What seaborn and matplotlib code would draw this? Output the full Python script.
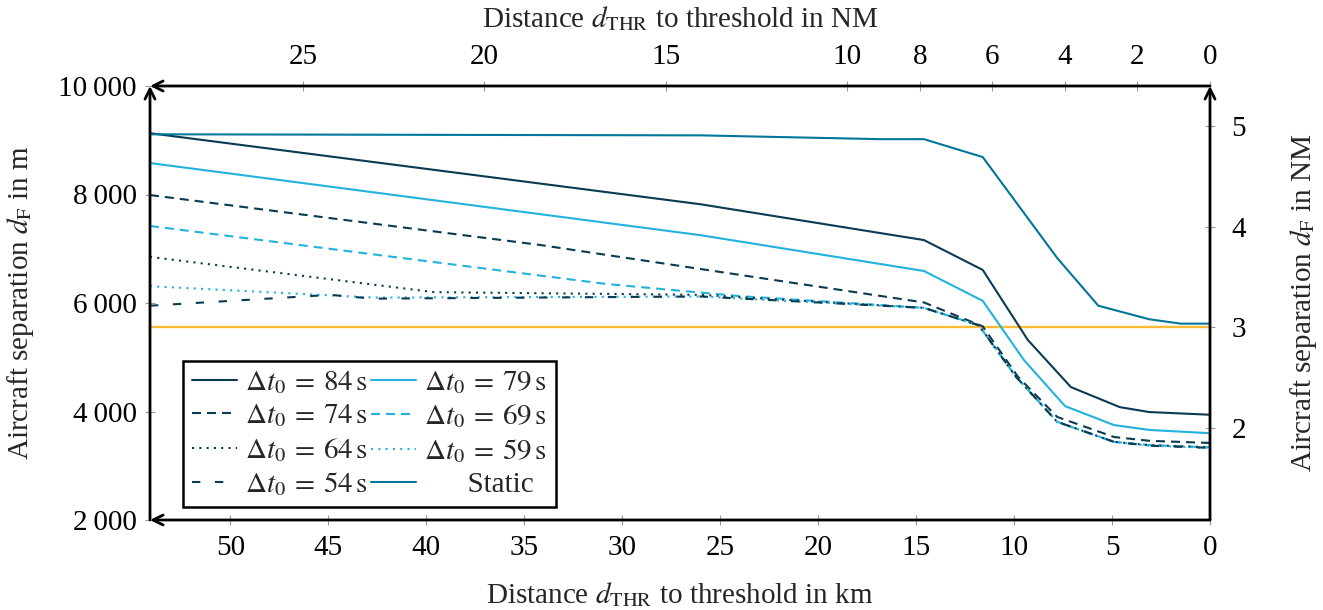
import matplotlib
matplotlib.use("Agg")
import matplotlib.pyplot as plt
import seaborn as sns
import numpy as np

# ---------------- data (distance km, separation m) ----------------
km_84 = [54.1, 26.0, 14.6, 11.6, 9.3, 7.1, 4.6, 3.1, 0.0]
m_84 = [9130, 7820, 7160, 6610, 5320, 4450, 4080, 3990, 3940]

km_79 = [54.1, 26.0, 14.6, 11.6, 9.5, 7.4, 4.9, 3.1, 0.0]
m_79 = [8580, 7250, 6590, 6040, 4950, 4100, 3750, 3660, 3600]

km_74 = [54.1, 34.2, 14.6, 11.6, 9.8, 7.8, 4.9, 3.1, 0.0]
m_74 = [7990, 7070, 6010, 5570, 4640, 3900, 3530, 3460, 3420]

km_69 = [54.1, 30.8, 24.1, 14.6, 11.8, 9.9, 7.8, 4.9, 3.1, 0.0]
m_69 = [7420, 6350, 6130, 5910, 5590, 4640, 3810, 3440, 3380, 3340]

km_64 = [54.1, 39.6, 26.0, 14.6, 11.8, 9.9, 7.8, 4.9, 3.1, 0.0]
m_64 = [6850, 6200, 6150, 5910, 5590, 4640, 3810, 3440, 3380, 3340]

km_59 = [54.1, 42.7, 26.0, 14.6, 11.8, 9.9, 7.8, 4.9, 3.1, 0.0]
m_59 = [6310, 6100, 6120, 5910, 5590, 4640, 3810, 3440, 3370, 3330]

km_54 = [54.1, 44.9, 42.7, 26.0, 14.6, 11.8, 9.9, 7.8, 4.9, 3.1, 0.0]
m_54 = [5950, 6150, 6080, 6120, 5910, 5590, 4640, 3810, 3440, 3370, 3330]

km_static = [54.1, 26.0, 16.8, 14.6, 11.6, 7.8, 5.7, 3.1, 1.5, 0.0]
m_static = [9110, 9090, 9020, 9020, 8690, 6830, 5950, 5700, 5620, 5620]

labels = [r"$\Delta t_0 \:=\: 84\,\mathrm{s}$", r"$\Delta t_0 \:=\: 79\,\mathrm{s}$",
          r"$\Delta t_0 \:=\: 74\,\mathrm{s}$", r"$\Delta t_0 \:=\: 69\,\mathrm{s}$",
          r"$\Delta t_0 \:=\: 64\,\mathrm{s}$", r"$\Delta t_0 \:=\: 59\,\mathrm{s}$",
          r"$\Delta t_0 \:=\: 54\,\mathrm{s}$", "      Static"]

NM = 1852.0
min_sep_nm = 3

x_ticks_km = [50, 45, 40, 35, 30, 25, 20, 15, 10, 5, 0]
x_ticks_nm = [25, 20, 15, 10, 8, 6, 4, 2, 0]
y_ticks_m = [2000, 4000, 6000, 8000, 10000]
y_ticks_nm = [2, 3, 4, 5]

# ---------------- style ----------------
sns.set_theme(style="white")
plt.rcParams['font.family'] = ['Liberation Serif', 'DejaVu Serif']
plt.rcParams['mathtext.fontset'] = 'stix'
FS = 21

DARK = '#0a3a50'
LIGHT = '#22b2de'
STATIC = '#00769a'
ORANGE = '#ffbb33'

fig = plt.figure(figsize=(13.23, 6.10), dpi=100)
ax = fig.add_axes([150/1323, 1-520/610, 1060/1323, 434/610])

series = [
    (km_84, m_84, DARK, '-'),
    (km_79, m_79, LIGHT, '-'),
    (km_74, m_74, DARK, (0, (4.3, 2.9))),
    (km_69, m_69, LIGHT, (0, (4.3, 2.9))),
    (km_64, m_64, DARK, (0, (1, 2.5))),
    (km_59, m_59, LIGHT, (0, (1, 2.5))),
    (km_54, m_54, DARK, (0, (4, 7))),
    (km_static, m_static, STATIC, '-'),
]

ax.axhline(min_sep_nm * NM, color=ORANGE, lw=1.7, zorder=1)

handles = []
for (xs, ys, c, ls), lab in zip(series, labels):
    sns.lineplot(x=xs, y=ys, ax=ax, color=c, linestyle=ls, lw=1.5,
                 label=lab, legend=False, errorbar=None, sort=False, zorder=3)
    handles.append(ax.get_lines()[-1])

ax.set_xlim(54.1, 0)
ax.set_ylim(2000, 10000)
ax.set_xticks(x_ticks_km)
ax.set_xticklabels([str(v) for v in x_ticks_km])
ax.set_yticks(y_ticks_m)
ax.set_yticklabels([f"{v:,}".replace(",", "\u2009") for v in y_ticks_m])

for s in ax.spines.values():
    s.set_visible(False)

tick_kw = dict(direction='inout', length=7, width=0.8, color='#999999',
               labelsize=FS, labelcolor='black')
ax.tick_params(axis='x', bottom=True, pad=7, **tick_kw)
ax.tick_params(axis='y', left=True, pad=6, **tick_kw)

ax.set_xlabel(r"Distance $d_{\mathrm{THR}}$ to threshold in km", fontsize=FS, labelpad=14)
ax.set_ylabel(r"Aircraft separation $d_{\mathrm{F}}$ in m", fontsize=FS, labelpad=16)

secx = ax.secondary_xaxis('top', functions=(lambda k: k / 1.852, lambda n: n * 1.852))
secx.set_xticks(x_ticks_nm)
secx.set_xticklabels([str(v) for v in x_ticks_nm])
secx.tick_params(axis='x', top=True, pad=8, **tick_kw)
secx.set_xlabel(r"Distance $d_{\mathrm{THR}}$ to threshold in NM", fontsize=FS, labelpad=12)

secy = ax.secondary_yaxis('right', functions=(lambda m: m / NM, lambda n: n * NM))
secy.set_yticks(y_ticks_nm)
secy.set_yticklabels([str(v) for v in y_ticks_nm])
secy.tick_params(axis='y', right=True, pad=12, **tick_kw)
secy.set_ylabel(r"Aircraft separation $d_{\mathrm{F}}$ in NM", fontsize=FS, labelpad=30)

for sa in (secx, secy):
    for s in sa.spines.values():
        s.set_visible(False)

# axis arrows
arrow_kw = dict(arrowstyle='->,head_length=0.6,head_width=0.3', lw=2.0, color='black',
                shrinkA=0, shrinkB=0)
def arrow(p_from, p_to):
    ax.annotate('', xy=p_to, xytext=p_from, xycoords='axes fraction',
                textcoords='axes fraction', arrowprops=arrow_kw, annotation_clip=False)
arrow((1, 0), (0, 0))
arrow((1, 1), (0, 1))
arrow((0, 0), (0, 1))
arrow((1, 0), (1, 1))

order = [0, 2, 4, 6, 1, 3, 5, 7]
leg = ax.legend([handles[i] for i in order], [labels[i] for i in order], ncol=2,
                loc='lower left', bbox_to_anchor=(0.031, 0.03), borderaxespad=0,
                fontsize=FS, frameon=True, fancybox=False, edgecolor='black',
                handlelength=1.55, handletextpad=0.28, columnspacing=0.1,
                labelspacing=0.22, borderpad=0.3)
leg.get_frame().set_linewidth(1.8)
leg.get_frame().set_alpha(1)

fig.savefig("out.png", dpi=100)
